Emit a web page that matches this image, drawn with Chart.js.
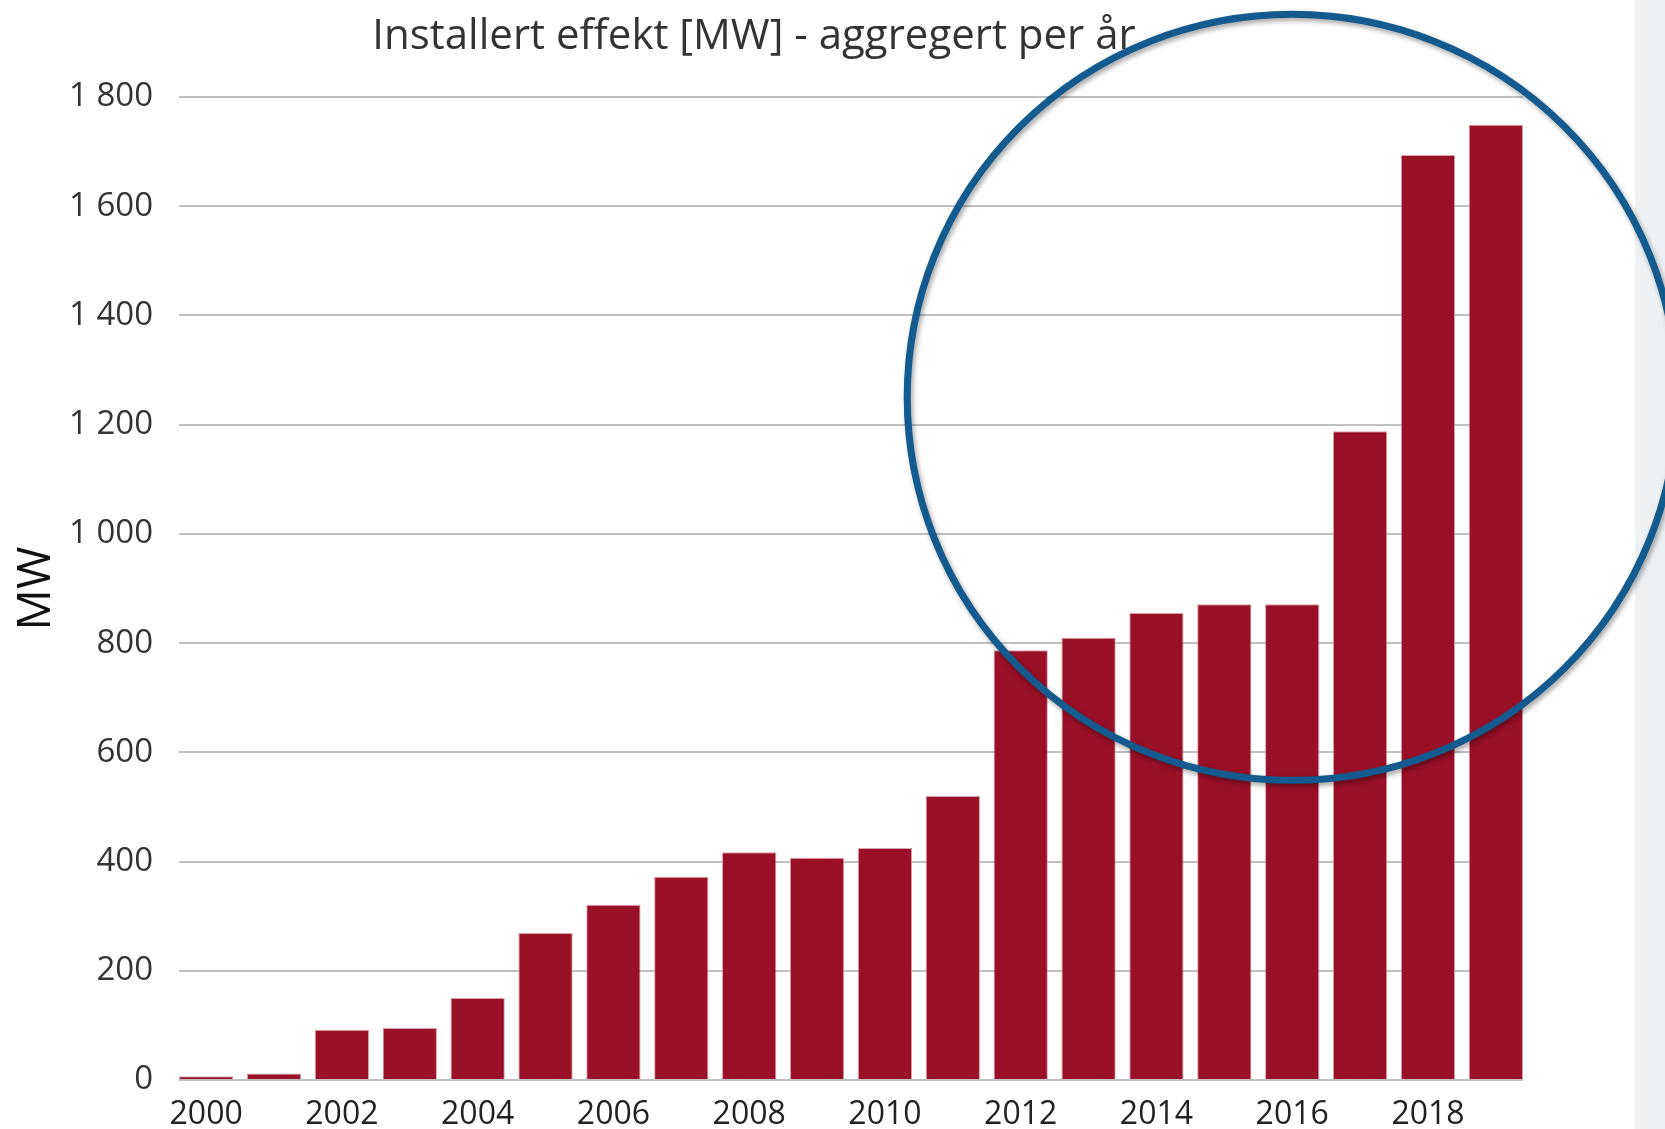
<!DOCTYPE html>
<html>
<head>
<meta charset="utf-8">
<script src="https://cdn.jsdelivr.net/npm/chart.js@4"></script>
<style>
  html, body { margin: 0; padding: 0; background: #ffffff; width: 1665px; height: 1129px; overflow: hidden; }
  #panel { position: absolute; left: 1635px; top: 0; width: 30px; height: 1129px; background: #eef1f4; }
  #c { position: absolute; left: 0; top: 0; }
</style>
</head>
<body>
<div id="panel"></div>
<canvas id="c" width="1665" height="1129"></canvas>
<script>
const years = [2000, 2001, 2002, 2003, 2004, 2005, 2006, 2007, 2008, 2009,
               2010, 2011, 2012, 2013, 2014, 2015, 2016, 2017, 2018, 2019];
const installedMW = [7, 12, 92, 95, 150, 269, 321, 372, 417, 407,
                     425, 520, 787, 810, 855, 871, 871, 1188, 1694, 1749];
const yTicks = [0, 200, 400, 600, 800, 1000, 1200, 1400, 1600, 1800];
const xTickYears = [2000, 2002, 2004, 2006, 2008, 2010, 2012, 2014, 2016, 2018];
const chartTitle = 'Installert effekt [MW] - aggregert per år';
const yTitle = 'MW';
// highlight annotation, expressed in data terms
const highlightYear = 2016;
const highlightValue = 1250;

Chart.defaults.font.family = "'Open Sans', 'Liberation Sans', sans-serif";
Chart.defaults.color = '#333333';

function fmt(v) { return String(v).replace(/\B(?=(\d{3})+(?!\d))/g, ' '); }

const titleShift = {
  id: 'titleShift',
  afterLayout(chart) {
    const tb = chart.titleBlock;
    if (tb) { const c = 754; const half = 500; tb.left = c - half; tb.right = c + half; }
  }
};

const highlight = {
  id: 'highlight',
  afterDraw(chart) {
    const ctx = chart.ctx;
    const cx = chart.scales.x.getPixelForValue(highlightYear);
    const cy = chart.scales.y.getPixelForValue(highlightValue);
    ctx.save();
    ctx.shadowColor = 'rgba(0,0,0,0.35)';
    ctx.shadowBlur = 5;
    ctx.shadowOffsetX = 2;
    ctx.shadowOffsetY = 3;
    ctx.strokeStyle = '#135a8e';
    ctx.lineWidth = 7;
    ctx.beginPath();
    ctx.ellipse(cx, cy, 385, 383, 0, 0, Math.PI * 2);
    ctx.stroke();
    ctx.restore();
  }
};

new Chart(document.getElementById('c'), {
  type: 'bar',
  data: {
    datasets: [{
      data: years.map((y, i) => ({ x: y, y: installedMW[i] })),
      backgroundColor: '#9a1027',
      borderColor: 'rgba(214,150,162,0.9)',
      borderWidth: 1,
      barPercentage: 0.8,
      categoryPercentage: 1.0
    }]
  },
  options: {
    responsive: false,
    animation: false,
    layout: { padding: { left: 0, right: 142, top: 0, bottom: 0 } },
    plugins: {
      legend: { display: false },
      tooltip: { enabled: false },
      title: {
        display: true,
        text: chartTitle,
        color: '#333333',
        font: { size: 42, weight: 'normal', lineHeight: 1.0 },
        padding: { top: 16, bottom: 39 }
      }
    },
    scales: {
      x: {
        type: 'linear',
        min: years[0] - 0.4,
        max: years[years.length - 1] + 0.4,
        offset: false,
        grid: { display: false, offset: false },
        border: { display: false },
        afterBuildTicks(scale) { scale.ticks = xTickYears.map(v => ({ value: v })); },
        afterFit(scale) { scale.height = 49; },
        ticks: {
          includeBounds: false,
          autoSkip: false,
          maxRotation: 0,
          padding: 11,
          color: '#222222',
          font: { size: 32, lineHeight: 1.0 },
          callback: v => String(v)
        }
      },
      y: {
        min: 0,
        max: 1800,
        afterBuildTicks(scale) { scale.ticks = yTicks.map(v => ({ value: v })); },
        afterFit(scale) { scale.width = 179; },
        grid: { color: '#c0c0c0', lineWidth: 2, drawTicks: false },
        border: { display: false },
        ticks: {
          padding: 26,
          color: '#333333',
          font: { size: 33 },
          callback: v => fmt(v)
        },
        title: {
          display: true,
          text: yTitle,
          color: '#111111',
          font: { size: 46, weight: 'normal' },
          padding: { top: 9, bottom: 0 }
        }
      }
    }
  },
  plugins: [titleShift, highlight]
});
</script>
</body>
</html>
